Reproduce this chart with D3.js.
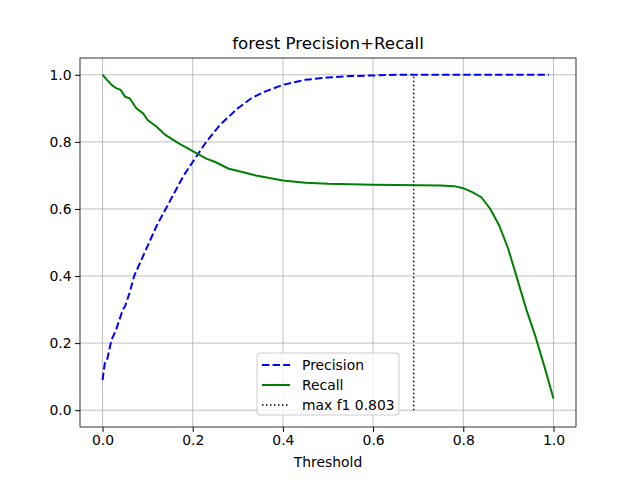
<!DOCTYPE html><html><head><script src="https://cdn.jsdelivr.net/npm/d3@7"></script>
<style>body{margin:0;font-family:"DejaVu Sans",sans-serif}</style></head><body>
<script>
const precX=[0,0.005,0.01,0.02,0.03,0.035,0.045,0.05,0.06,0.07,0.08,0.1,0.12,0.14,0.16,0.18,0.2,0.23,0.26,0.3,0.33,0.36,0.4,0.45,0.5,0.55,0.6,0.65,0.7,0.8,0.9,0.99];
const precY=[0.09,0.14,0.15,0.21,0.24,0.26,0.3,0.31,0.35,0.4,0.43,0.49,0.55,0.6,0.65,0.7,0.74,0.8,0.85,0.9,0.93,0.95,0.97,0.985,0.992,0.996,0.998,1.0,1.0,1.0,1.0,1.0];
const recX=[0,0.01,0.02,0.03,0.04,0.05,0.06,0.075,0.09,0.1,0.12,0.14,0.17,0.19,0.21,0.23,0.25,0.28,0.31,0.34,0.37,0.4,0.45,0.5,0.6,0.7,0.75,0.78,0.8,0.82,0.84,0.86,0.88,0.9,0.92,0.94,0.96,0.98,1.0];
const recY=[1.0,0.985,0.97,0.96,0.955,0.935,0.93,0.9,0.885,0.865,0.845,0.82,0.795,0.78,0.765,0.75,0.74,0.72,0.71,0.7,0.692,0.685,0.678,0.675,0.672,0.671,0.67,0.668,0.662,0.65,0.635,0.6,0.55,0.48,0.39,0.3,0.22,0.13,0.035];
const maxF1X=0.69, maxF1Label="max f1 0.803";
const xTicks=[0,0.2,0.4,0.6,0.8,1.0], yTicks=[0,0.2,0.4,0.6,0.8,1.0];
const W=640,H=480,L=80,R=576,T=58,B=427;
const svg=d3.select("body").append("svg").attr("width",W).attr("height",H);
svg.append("rect").attr("width",W).attr("height",H).attr("fill","#fff");
const x=d3.scaleLinear().domain([-0.05,1.05]).range([L,R]);
const y=d3.scaleLinear().domain([-0.05,1.05]).range([B,T]);
const g=svg.append("g");
xTicks.forEach(t=>g.append("line").attr("x1",x(t)).attr("x2",x(t)).attr("y1",T).attr("y2",B).attr("stroke","#b0b0b0").attr("stroke-width",0.8));
yTicks.forEach(t=>g.append("line").attr("y1",y(t)).attr("y2",y(t)).attr("x1",L).attr("x2",R).attr("stroke","#b0b0b0").attr("stroke-width",0.8));
const line=d3.line().x(d=>x(d[0])).y(d=>y(d[1]));
g.append("path").attr("d",line(precX.map((v,i)=>[v,precY[i]]))).attr("fill","none").attr("stroke","#0000ff").attr("stroke-width",2).attr("stroke-dasharray","7.4,3.2");
g.append("path").attr("d",line(recX.map((v,i)=>[v,recY[i]]))).attr("fill","none").attr("stroke","#008000").attr("stroke-width",2);
g.append("line").attr("x1",x(maxF1X)).attr("x2",x(maxF1X)).attr("y1",y(0)).attr("y2",y(1)).attr("stroke","#000").attr("stroke-width",1.5).attr("stroke-dasharray","1.5,2.5");
svg.append("rect").attr("x",L).attr("y",T).attr("width",R-L).attr("height",B-T).attr("fill","none").attr("stroke","#000").attr("stroke-width",0.8);
const fs=13.9;
svg.append("g").attr("transform",`translate(0,${B})`).call(d3.axisBottom(x).tickValues(xTicks).tickFormat(d3.format(".1f")).tickSizeOuter(0).tickSize(4.9).tickPadding(3.5)).call(a=>{a.select(".domain").remove();a.selectAll("text").attr("font-size",fs).attr("font-family","DejaVu Sans").attr("fill","#000");});
svg.append("g").attr("transform",`translate(${L},0)`).call(d3.axisLeft(y).tickValues(yTicks).tickFormat(d3.format(".1f")).tickSizeOuter(0).tickSize(4.9).tickPadding(3.5)).call(a=>{a.select(".domain").remove();a.selectAll("text").attr("font-size",fs).attr("font-family","DejaVu Sans").attr("fill","#000");});
svg.append("text").attr("x",(L+R)/2).attr("y",49).attr("text-anchor","middle").attr("font-size",16.7).text("forest Precision+Recall");
svg.append("text").attr("x",(L+R)/2).attr("y",467).attr("text-anchor","middle").attr("font-size",fs).text("Threshold");
const lg=svg.append("g").attr("transform","translate(257,353)");
lg.append("rect").attr("width",142).attr("height",62).attr("rx",3).attr("fill","#fff").attr("fill-opacity",0.8).attr("stroke","#ccc");
const items=[["Precision","#0000ff","7.4,3.2",2],["Recall","#008000",null,2],[maxF1Label,"#000","1.5,2.5",1.5]];
items.forEach((it,i)=>{const yy=12+i*20;
lg.append("line").attr("x1",5).attr("x2",33).attr("y1",yy).attr("y2",yy).attr("stroke",it[1]).attr("stroke-width",it[3]).attr("stroke-dasharray",it[2]);
lg.append("text").attr("x",45).attr("y",yy+5).attr("font-size",fs).text(it[0]);});
</script></body></html>
